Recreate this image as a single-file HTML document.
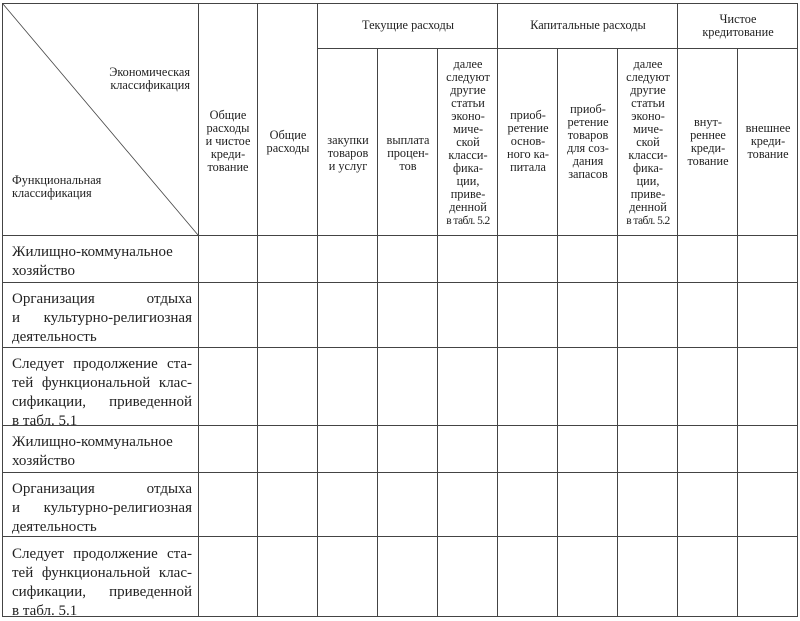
<!DOCTYPE html>
<html><head><meta charset="utf-8"><style>
body{margin:0;width:800px;height:620px;background:#fff;position:relative;overflow:hidden;font-family:"Liberation Serif",serif;color:#222}
.h{position:absolute;font-size:12.3px;line-height:13px;text-align:center;display:flex;align-items:center;justify-content:center;white-space:nowrap}
.b{position:absolute;left:12px;width:180px;font-size:15px;line-height:19px;white-space:nowrap}
.b div{height:19px}
.j{text-align:justify;text-align-last:justify}
.s{letter-spacing:-0.6px;font-size:11.5px}
</style></head><body>
<svg width="800" height="620" style="position:absolute;left:0;top:0">
<g stroke="#444" stroke-width="1" fill="none">
<rect x="2.5" y="3.5" width="795" height="613"/>
<line x1="3" y1="4" x2="198" y2="235" stroke-width="0.8"/>
<line x1="198.5" y1="3" x2="198.5" y2="617"/>
<line x1="257.5" y1="3" x2="257.5" y2="617"/>
<line x1="317.5" y1="3" x2="317.5" y2="617"/>
<line x1="377.5" y1="48" x2="377.5" y2="617"/>
<line x1="437.5" y1="48" x2="437.5" y2="617"/>
<line x1="497.5" y1="3" x2="497.5" y2="617"/>
<line x1="557.5" y1="48" x2="557.5" y2="617"/>
<line x1="617.5" y1="48" x2="617.5" y2="617"/>
<line x1="677.5" y1="3" x2="677.5" y2="617"/>
<line x1="737.5" y1="48" x2="737.5" y2="617"/>
<line x1="317" y1="48.5" x2="798" y2="48.5"/>
<line x1="2" y1="235.5" x2="798" y2="235.5"/>
<line x1="2" y1="282.5" x2="798" y2="282.5"/>
<line x1="2" y1="347.5" x2="798" y2="347.5"/>
<line x1="2" y1="425.5" x2="798" y2="425.5"/>
<line x1="2" y1="472.5" x2="798" y2="472.5"/>
<line x1="2" y1="536.5" x2="798" y2="536.5"/>
</g></svg>
<div class="h" style="left:90px;top:64px;width:100px;height:30px;justify-content:flex-end;text-align:right"><div>Экономическая<br>классификация</div></div>
<div class="h" style="left:12px;top:172px;width:120px;height:30px;justify-content:flex-start;text-align:left"><div>Функциональная<br>классификация</div></div>
<div class="h" style="left:198px;top:48px;width:60px;height:187px"><div>Общие<br>расходы<br>и чистое<br>креди-<br>тование</div></div>
<div class="h" style="left:258px;top:48px;width:60px;height:187px"><div>Общие<br>расходы</div></div>
<div class="h" style="left:318px;top:3px;width:180px;height:45px"><div>Текущие расходы</div></div>
<div class="h" style="left:498px;top:3px;width:180px;height:45px"><div>Капитальные расходы</div></div>
<div class="h" style="left:678px;top:3px;width:120px;height:45px"><div>Чистое<br>кредитование</div></div>
<div class="h" style="left:318px;top:48px;width:60px;height:210px"><div>закупки<br>товаров<br>и услуг</div></div>
<div class="h" style="left:378px;top:48px;width:60px;height:210px"><div>выплата<br>процен-<br>тов</div></div>
<div class="h" style="left:438px;top:49px;width:60px;height:187px"><div>далее<br>следуют<br>другие<br>статьи<br>эконо-<br>миче-<br>ской<br>класси-<br>фика-<br>ции,<br>приве-<br>денной<br><span class="s">в табл. 5.2</span></div></div>
<div class="h" style="left:498px;top:48px;width:60px;height:187px"><div>приоб-<br>ретение<br>основ-<br>ного ка-<br>питала</div></div>
<div class="h" style="left:558px;top:48px;width:60px;height:187px"><div>приоб-<br>ретение<br>товаров<br>для соз-<br>дания<br>запасов</div></div>
<div class="h" style="left:618px;top:49px;width:60px;height:187px"><div>далее<br>следуют<br>другие<br>статьи<br>эконо-<br>миче-<br>ской<br>класси-<br>фика-<br>ции,<br>приве-<br>денной<br><span class="s">в табл. 5.2</span></div></div>
<div class="h" style="left:678px;top:48px;width:60px;height:187px"><div>внут-<br>реннее<br>креди-<br>тование</div></div>
<div class="h" style="left:738px;top:48px;width:60px;height:187px"><div>внешнее<br>креди-<br>тование</div></div>
<div class="b" style="top:243px"><div>Жилищно-коммунальное</div><div>хозяйство</div></div>
<div class="b" style="top:290px"><div class="j">Организация отдыха</div><div class="j">и культурно-религиозная</div><div>деятельность</div></div>
<div class="b" style="top:355px"><div class="j">Следует продолжение ста-</div><div class="j">тей функциональной клас-</div><div class="j">сификации, приведенной</div><div>в табл. 5.1</div></div>
<div class="b" style="top:433px"><div>Жилищно-коммунальное</div><div>хозяйство</div></div>
<div class="b" style="top:480px"><div class="j">Организация отдыха</div><div class="j">и культурно-религиозная</div><div>деятельность</div></div>
<div class="b" style="top:545px"><div class="j">Следует продолжение ста-</div><div class="j">тей функциональной клас-</div><div class="j">сификации, приведенной</div><div>в табл. 5.1</div></div>
</body></html>
